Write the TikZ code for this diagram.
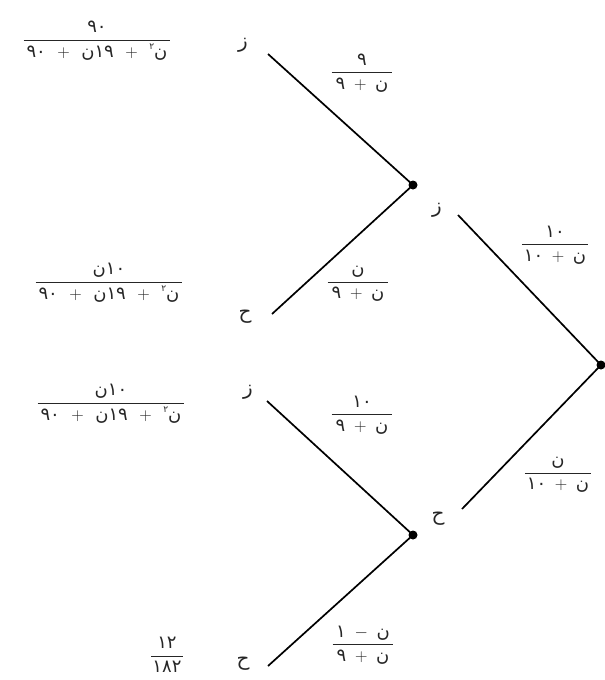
\documentclass[tikz,border=0pt]{standalone}
\usepackage{amsmath}
\usepackage{fontspec}
\newfontfamily\ar[Script=Arabic]{DejaVu Sans}
\newcommand\A[1]{\hbox{\ar #1}}
\newcommand\sqn{\raisebox{1.1ex}{\ar\fontsize{9}{10}\selectfont ٢}\A{ن}}
\newcommand\fr[3]{$\displaystyle\genfrac{}{}{1pt}{0}{#2}{\hspace{#1}#3\hspace{#1}}$}
\newcommand\bigden{\A{٩٠}\;\,+\;\,\A{ن}\A{١٩}\;\,+\;\,\sqn}
\begin{document}
\begin{tikzpicture}[x=1pt,y=-1pt,
  branch/.style={line width=1.7pt,black},
  dot/.style={circle,fill=black,inner sep=0pt,minimum size=9pt},
  end/.style={coordinate},
  letter/.style={font=\ar\fontsize{20}{22}\selectfont,text=black!85},
  prob/.style={font=\fontsize{18}{20}\selectfont,text=black!85,inner sep=0pt},
  res/.style={font=\fontsize{18}{20}\selectfont,text=black!85,inner sep=0pt}]
\useasboundingbox (0,0) rectangle (605,680);
% nodes
\node[dot] (root) at (601,365) {};
\node[dot] (up) at (413,185) {};
\node[dot] (lo) at (413,535) {};
\node[end] (m1) at (458,215) {};
\node[end] (m2) at (462,509) {};
\node[end] (a1) at (268,54) {};
\node[end] (a2) at (272,314) {};
\node[end] (a3) at (267,401) {};
\node[end] (a4) at (268,666) {};
% connectors
\draw[branch] (root.center) -- (m1);
\draw[branch] (root.center) -- (m2);
\draw[branch] (up.center) -- (a1);
\draw[branch] (up.center) -- (a2);
\draw[branch] (lo.center) -- (a3);
\draw[branch] (lo.center) -- (a4);
% outcome letters
\node[letter] (l1) at (243,45) {ز};
\node[letter] (l2) at (245,317) {ح};
\node[letter] (l3) at (248,392) {ز};
\node[letter] (l4) at (243,664) {ح};
\node[letter] (l5) at (437,210) {ز};
\node[letter] (l6) at (438,519) {ح};
% branch probabilities
\node[prob] (p1) at (362,73) {\fr{4pt}{\A{٩}}{\A{٩}\;+\;\A{ن}}};
\node[prob] (p2) at (358,284) {\fr{4pt}{\A{ن}}{\A{٩}\;+\;\A{ن}}};
\node[prob] (p3) at (555,245) {\fr{2pt}{\A{١٠}}{\A{١٠}\;+\;\A{ن}}};
\node[prob] (p4) at (558,475) {\fr{2pt}{\A{ن}}{\A{١٠}\;+\;\A{ن}}};
\node[prob] (p5) at (362,415) {\fr{4pt}{\A{١٠}}{\A{٩}\;+\;\A{ن}}};
\node[prob] (p6) at (363,645) {\fr{4pt}{\A{١}\;-\;\A{ن}}{\A{٩}\;+\;\A{ن}}};
% results
\node[res] (r1) at (97,41) {\fr{3pt}{\A{٩٠}}{\bigden}};
\node[res] (r2) at (109,283) {\fr{3pt}{\A{ن}\A{١٠}}{\bigden}};
\node[res] (r3) at (111,404) {\fr{3pt}{\A{ن}\A{١٠}}{\bigden}};
\node[res] (r4) at (167,655) {\fr{1pt}{\A{١٢}}{\A{١٨٢}}};
\end{tikzpicture}
\end{document}
